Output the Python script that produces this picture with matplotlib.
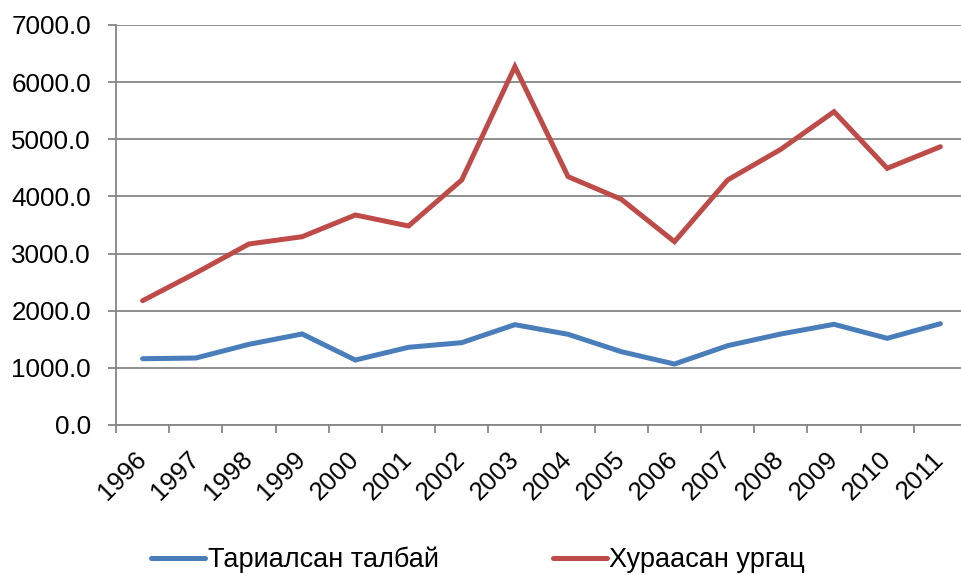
import matplotlib

matplotlib.use("Agg")
import matplotlib.pyplot as plt
from matplotlib.ticker import FixedLocator, FormatStrFormatter

plt.rcParams["font.family"] = ["Liberation Sans", "DejaVu Sans"]

years = ["1996", "1997", "1998", "1999", "2000", "2001", "2002", "2003",
         "2004", "2005", "2006", "2007", "2008", "2009", "2010", "2011"]
sown_area = [1160, 1172, 1412, 1593, 1137, 1360, 1441, 1756,
             1587, 1283, 1067, 1388, 1593, 1762, 1517, 1773]
harvest = [2175, 2660, 3168, 3295, 3675, 3483, 4288, 6271,
           4346, 3950, 3208, 4288, 4825, 5483, 4492, 4870]
series_names = ["Тариалсан талбай", "Хураасан ургац"]
colors = ["#4A7EBB", "#BE4B48"]
grid_color = "#868686"

fig = plt.figure(figsize=(9.62, 5.75), dpi=100)
ax = fig.add_axes([116 / 962, 1 - 425 / 575, 851 / 962, 400 / 575])

x = list(range(len(years)))
ax.plot(x, sown_area, color=colors[0], lw=3.6, solid_capstyle="round",
        solid_joinstyle="miter", label=series_names[0])
ax.plot(x, harvest, color=colors[1], lw=3.6, solid_capstyle="round",
        solid_joinstyle="miter", label=series_names[1])

ax.set_xlim(-0.5, len(years) - 0.5)
ax.set_ylim(0, 7000)
ax.set_yticks(range(0, 7001, 1000))
ax.yaxis.set_major_formatter(FormatStrFormatter("%.1f"))
ax.grid(axis="y", color=grid_color, lw=1.3)
ax.set_axisbelow(True)

# labels at category centres, tick marks at category boundaries
ax.set_xticks(x)
ax.set_xticklabels(years, rotation=45, ha="right", va="center",
                   rotation_mode="anchor", fontsize=18.5)
ax.tick_params(axis="x", which="major", length=0, pad=22)
ax.xaxis.set_minor_locator(FixedLocator([i - 0.5 for i in range(len(years) + 1)]))
ax.tick_params(axis="x", which="minor", length=6, width=1.3, color=grid_color,
               direction="out")
ax.tick_params(axis="y", length=6, width=1.3, color=grid_color, labelsize=18.7, pad=12)

for side in ("top", "right"):
    ax.spines[side].set_visible(False)
for side in ("left", "bottom"):
    ax.spines[side].set_color(grid_color)
    ax.spines[side].set_linewidth(1.3)

fig.legend(loc="center", bbox_to_anchor=(478 / 962, 1 - 560 / 575), ncol=2,
           frameon=False, fontsize=19.5, handlelength=2.0, handletextpad=0.1,
           columnspacing=4.2)

fig.savefig("out.png", dpi=100)
